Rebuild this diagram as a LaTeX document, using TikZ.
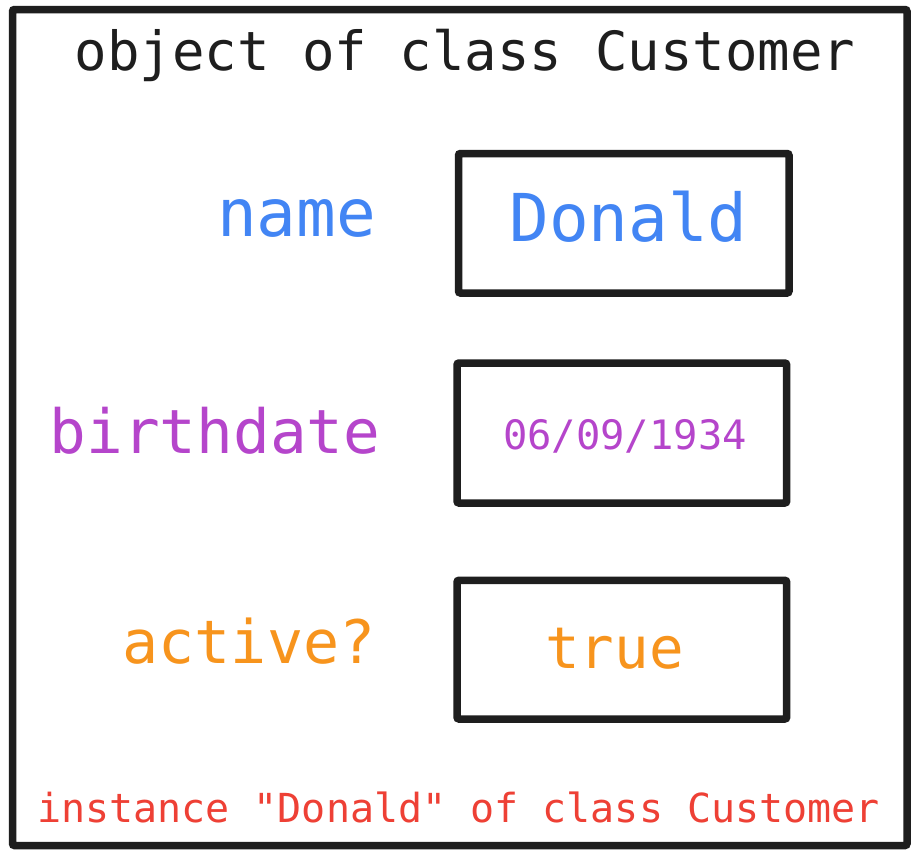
\documentclass[tikz,border=0pt]{standalone}
\usepackage{fontspec}
\newfontfamily\monofam{DejaVu Sans Mono}
\definecolor{frame}{HTML}{1E1E1E}
\definecolor{cblue}{HTML}{4285F4}
\definecolor{cpurple}{HTML}{B545CB}
\definecolor{corange}{HTML}{F7941D}
\definecolor{cred}{HTML}{EE4035}
\tikzset{
  boxline/.style={draw=frame, line width=7.5pt, rounded corners=2pt},
  valbox/.style={boxline, anchor=north west, inner sep=0pt, outer sep=0pt},
  txt/.style={inner sep=0pt, anchor=base},
}
\begin{document}
\begin{tikzpicture}[x=1pt,y=-1pt]
\fill[white] (0,0) rectangle (918,860);
\useasboundingbox (0,0) rectangle (918,860);
\draw[boxline] (12.5,9.5) rectangle (907,845.5);
\node[valbox, minimum width=330.5pt, minimum height=139.5pt] (b1) at (458.5,153.5) {};
\node[valbox, minimum width=329.7pt, minimum height=140pt] (b2) at (457,363) {};
\node[valbox, minimum width=329.7pt, minimum height=138.7pt] (b3) at (457,580.3) {};
\node[txt, text=frame, font=\monofam\fontsize{54}{60}\selectfont] (title) at (465,70) {object of class Customer};
\node[txt, text=cblue, font=\monofam\fontsize{66}{70}\selectfont] (name) at (296.5,236) {name};
\node[txt, text=cblue, font=\monofam\fontsize{66}{70}\selectfont] (donald) at (628.5,241) {Donald};
\node[txt, text=cpurple, font=\monofam\fontsize{61}{66}\selectfont] (birth) at (215,453) {birthdate};
\node[txt, text=cpurple, font=\monofam\fontsize{40.5}{46}\selectfont] (date) at (625,449) {06/09/1934};
\node[txt, text=corange, font=\monofam\fontsize{60}{66}\selectfont] (active) at (249,663) {active?};
\node[txt, text=corange, font=\monofam\fontsize{57.5}{62}\selectfont] (true) at (614.5,668) {true};
\node[txt, text=cred, font=\monofam\fontsize{40}{46}\selectfont] (inst) at (458.5,822) {instance "Donald" of class Customer};
\end{tikzpicture}
\end{document}
